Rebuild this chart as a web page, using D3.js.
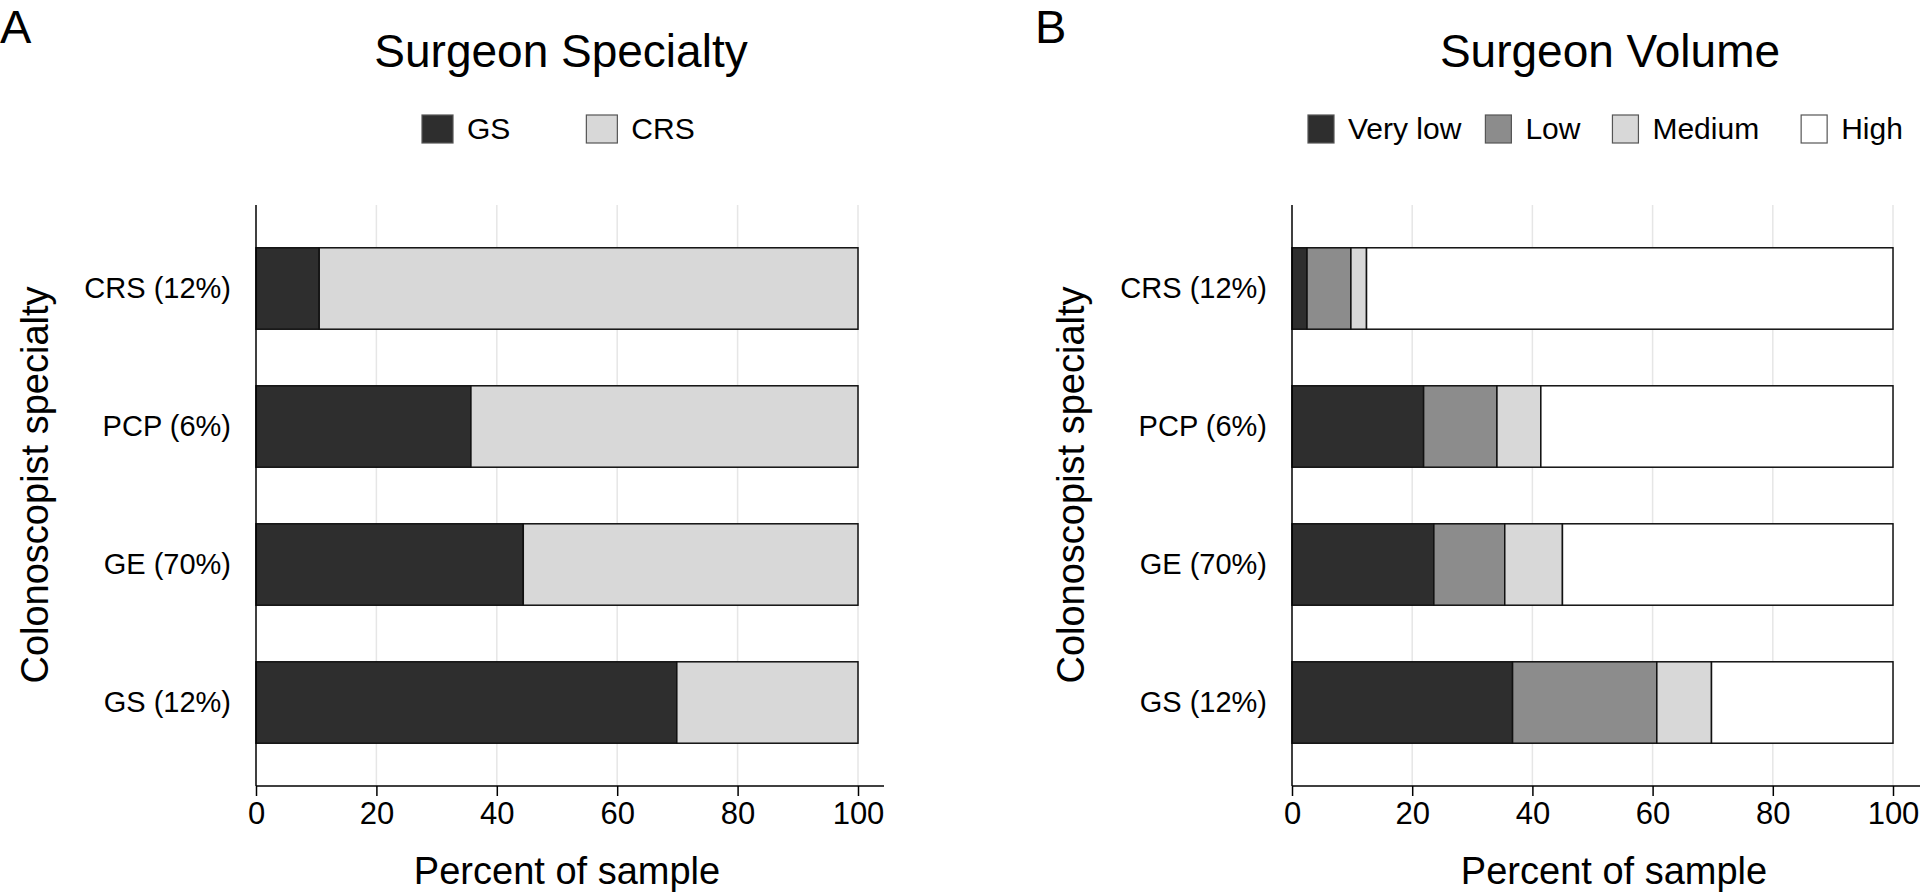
<!DOCTYPE html>
<html lang="en">
<head>
<meta charset="UTF-8">
<title>Surgeon Specialty and Volume by Colonoscopist Specialty</title>
<script src="https://d3js.org/d3.v7.min.js"></script>
<style>
    body { margin: 0; background: #fff; }
    svg { display: block; font-family: "Liberation Sans", Arial, sans-serif; }
    .grid line { stroke: #e6e6e6; stroke-width: 1.5; }
    .axis path, .axis line { stroke: #000; stroke-width: 1.5; }
    .axis text { fill: #000; }
</style>
</head>
<body>
<svg width="1920" height="894"></svg>
<script>
    // rows, top to bottom
    const rowLabels = ["CRS (12%)", "PCP (6%)", "GE (70%)", "GS (12%)"];
    const xTicks = [0, 20, 40, 60, 80, 100];

    // panel A: surgeon specialty (percent of sample)
    const specialtyKeys = ["GS", "CRS"];
    const specialtyGS = [10.5, 35.7, 44.4, 69.9];
    const specialtyCRS = [89.5, 64.3, 55.6, 30.1];

    // panel B: surgeon volume (percent of sample)
    const volumeKeys = ["Very low", "Low", "Medium", "High"];
    const volVeryLow = [2.5, 21.9, 23.6, 36.7];
    const volLow = [7.3, 12.2, 11.8, 24.0];
    const volMedium = [2.6, 7.3, 9.6, 9.1];
    const volHigh = [87.6, 58.6, 55.0, 30.2];

    const svg = d3.select("svg");

    function toRows(keys, series) {
        return rowLabels.map((label, i) => {
            const row = { label: label };
            keys.forEach((k, j) => { row[k] = series[j][i]; });
            return row;
        });
    }

    function drawPanel(p) {
        const g = svg.append("g");

        const x = d3.scaleLinear().domain([0, 100]).range([p.x0, p.x1]);
        const y = d3.scaleBand()
            .domain(rowLabels)
            .range([205, 786])
            .paddingInner(0.41)
            .paddingOuter(0.31);

        // grid
        g.append("g").attr("class", "grid")
            .selectAll("line")
            .data(xTicks.filter(d => d > 0))
            .join("line")
            .attr("x1", d => x(d)).attr("x2", d => x(d))
            .attr("y1", 205).attr("y2", 786);

        // stacked bars
        const stack = d3.stack().keys(p.keys)(toRows(p.keys, p.series));
        g.selectAll(".layer")
            .data(stack)
            .join("g")
            .attr("class", "layer")
            .attr("fill", (d, i) => p.colors[i])
            .selectAll("rect")
            .data(d => d)
            .join("rect")
            .attr("x", d => x(d[0]))
            .attr("y", d => y(d.data.label))
            .attr("width", d => x(d[1]) - x(d[0]))
            .attr("height", y.bandwidth())
            .attr("stroke", "#111")
            .attr("stroke-width", 1.5);

        // x axis
        const xAxis = g.append("g")
            .attr("class", "axis")
            .attr("transform", "translate(0,786)")
            .call(d3.axisBottom(x).tickValues(xTicks).tickSize(10).tickPadding(6));
        xAxis.select(".domain").remove();
        xAxis.append("line")
            .attr("x1", p.x0).attr("x2", p.axisEnd)
            .attr("y1", 0).attr("y2", 0)
            .attr("stroke", "#000").attr("stroke-width", 1.5);
        xAxis.selectAll("text").attr("font-size", 31).attr("dy", "0.72em");

        // y axis
        const yAxis = g.append("g")
            .attr("class", "axis")
            .attr("transform", `translate(${p.x0},0)`)
            .call(d3.axisLeft(y).tickSize(0).tickPadding(25));
        yAxis.select(".domain").attr("d", "M0,205V786");
        yAxis.selectAll("text").attr("font-size", 29);

        // axis titles
        g.append("text")
            .attr("x", p.xTitleX).attr("y", 884)
            .attr("text-anchor", "middle")
            .attr("font-size", 38)
            .text("Percent of sample");
        g.append("text")
            .attr("transform", `translate(${p.yTitleX},485) rotate(-90)`)
            .attr("text-anchor", "middle")
            .attr("font-size", 38)
            .text("Colonoscopist specialty");

        // panel title and letter
        g.append("text")
            .attr("x", p.titleX).attr("y", 67)
            .attr("text-anchor", "middle")
            .attr("font-size", 46)
            .text(p.title);
        g.append("text")
            .attr("x", p.letterX).attr("y", 43)
            .attr("font-size", 47)
            .text(p.letter);

        // legend
        const leg = g.append("g");
        let cx = p.legendX;
        p.keys.forEach((k, i) => {
            leg.append("rect")
                .attr("x", cx).attr("y", 115)
                .attr("width", p.swatch).attr("height", 28)
                .attr("fill", p.colors[i])
                .attr("stroke", "#555").attr("stroke-width", 1.2);
            const t = leg.append("text")
                .attr("x", cx + p.swatch + 14).attr("y", 139)
                .attr("font-size", 30)
                .text(k);
            cx += p.swatch + 14 + t.node().getComputedTextLength() + p.legendGap[i];
        });
    }

    drawPanel({
        letter: "A", letterX: 0,
        title: "Surgeon Specialty", titleX: 561,
        keys: specialtyKeys,
        series: [specialtyGS, specialtyCRS],
        colors: ["#2e2e2e", "#d8d8d8"],
        x0: 256, x1: 858, axisEnd: 884,
        xTitleX: 567, yTitleX: 48,
        legendX: 422, swatch: 31, legendGap: [76, 0]
    });

    drawPanel({
        letter: "B", letterX: 1035,
        title: "Surgeon Volume", titleX: 1610,
        keys: volumeKeys,
        series: [volVeryLow, volLow, volMedium, volHigh],
        colors: ["#2e2e2e", "#8c8c8c", "#d8d8d8", "#ffffff"],
        x0: 1292, x1: 1893, axisEnd: 1920,
        xTitleX: 1614, yTitleX: 1084,
        legendX: 1308, swatch: 26, legendGap: [24, 32, 42, 0]
    });
</script>
</body>
</html>
